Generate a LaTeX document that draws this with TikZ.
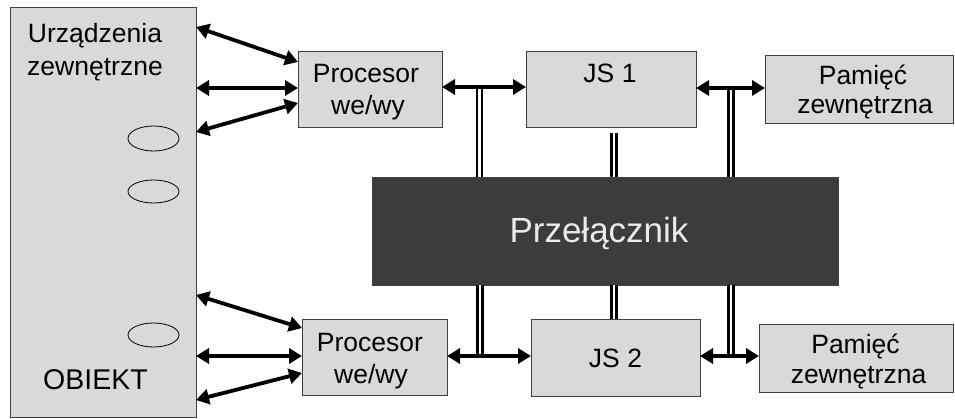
\documentclass[tikz,border=0pt]{standalone}
\usepackage{fontspec}
\setmainfont{Liberation Sans}
\usetikzlibrary{arrows.meta}
\definecolor{boxgray}{gray}{0.85}
\definecolor{edgegray}{gray}{0.25}
\definecolor{switchgray}{HTML}{3C3C3C}
\definecolor{switchtext}{HTML}{EBEBEB}

\begin{document}
\begin{tikzpicture}[x=1pt,y=-1pt,
  unit/.style={draw=edgegray, line width=0.9pt, fill=boxgray, inner sep=0pt, outer sep=0pt},
  lbl/.style={anchor=base, inner sep=0pt, font=\fontsize{26.5}{31}\selectfont},
  link/.style={line width=3.8pt, {Triangle[length=13pt,width=15pt]}-{Triangle[length=13pt,width=15pt]}},
  bus/.style={draw=black, line width=2.8pt, double=white, double distance=2.3pt},
  port/.style={draw=black, line width=0.8pt}
]
\useasboundingbox (0,0) rectangle (955,419);

% blocks
\node[unit, minimum width=186pt, minimum height=410pt] (obj) at (103,212) {};
\node[unit, minimum width=144pt, minimum height=76pt] (p1) at (370,89) {};
\node[unit, minimum width=170pt, minimum height=76pt] (js1) at (611,89) {};
\node[unit, minimum width=188pt, minimum height=68pt] (m1) at (859,89) {};
\node[unit, minimum width=145pt, minimum height=76pt] (p2) at (374.5,357) {};
\node[unit, minimum width=169pt, minimum height=77pt] (js2) at (615.5,357.5) {};
\node[unit, minimum width=194pt, minimum height=68pt] (m2) at (856,358) {};
\node[draw=edgegray, line width=0.9pt, fill=switchgray, inner sep=0pt,
      minimum width=466pt, minimum height=108pt] (sw) at (605,231) {};

% device ports on the object
\draw[port] (153.5,138.5) ellipse [x radius=25.5, y radius=12.5];
\draw[port] (153.5,191.5) ellipse [x radius=25.5, y radius=11.5];
\draw[port] (153.5,335) ellipse [x radius=25.5, y radius=12];

% labels
\node[lbl] (tobj1) at (95,43) {Urządzenia};
\node[lbl] (tobj2) at (95,76) {zewnętrzne};
\node[lbl, font=\fontsize{28.5}{34}\selectfont] (tobj3) at (95.5,389) {OBIEKT};
\node[lbl] (tp1a) at (366,83) {Procesor};
\node[lbl] (tp1b) at (368,115) {we/wy};
\node[lbl] (tp2a) at (370,352) {Procesor};
\node[lbl] (tp2b) at (371,383) {we/wy};
\node[lbl] (tjs1) at (610,83) {JS 1};
\node[lbl] (tjs2) at (615.5,367) {JS 2};
\node[lbl] (tm1a) at (863,85) {Pamięć};
\node[lbl] (tm1b) at (865,114) {zewnętrzna};
\node[lbl] (tm2a) at (855.5,353) {Pamięć};
\node[lbl] (tm2b) at (858.5,383) {zewnętrzna};
\node[anchor=base, inner sep=0pt, text=switchtext, font=\fontsize{35}{42}\selectfont]
  (tsw) at (599,243) {Przełącznik};

% buses to the switch
\coordinate (bt1) at (479.5,87);
\coordinate (bt2) at (614,133);
\coordinate (bt3) at (731,88);
\coordinate (bb1) at (480,356);
\coordinate (bb3) at (731,356);
\draw[bus] (bt1) -- (bt1 |- sw.north);
\draw[bus] (bt2) -- (bt2 |- sw.north);
\draw[bus] (bt3) -- (bt3 |- sw.north);
\draw[bus] (bb1) -- (bb1 |- sw.south);
\draw[bus] (sw.south -| 614,0) -- (js2.north -| 614,0);
\draw[bus] (bb3) -- (bb3 |- sw.south);

% links to the object
\draw[link] (obj.east |- 0,27) -- (p1.west |- 0,62);
\draw[link] (obj.east |- 0,88) -- (p1.west |- 0,88);
\draw[link] (obj.east |- 0,132) -- (p1.west |- 0,103);
\draw[link] (obj.east |- 0,295) -- (p2.west |- 0,328);
\draw[link] (obj.east |- 0,356) -- (p2.west |- 0,356);
\draw[link] (obj.east |- 0,400) -- (p2.west |- 0,373);

% links between processors, units and memories
\draw[link] (p1.east |- bt1) -- (js1.west |- bt1);
\draw[link] (js1.east |- bt3) -- (m1.west |- bt3);
\draw[link] (p2.east |- bb1) -- (js2.west |- bb1);
\draw[link] (js2.east |- bb3) -- (m2.west |- bb3);
\end{tikzpicture}
\end{document}
